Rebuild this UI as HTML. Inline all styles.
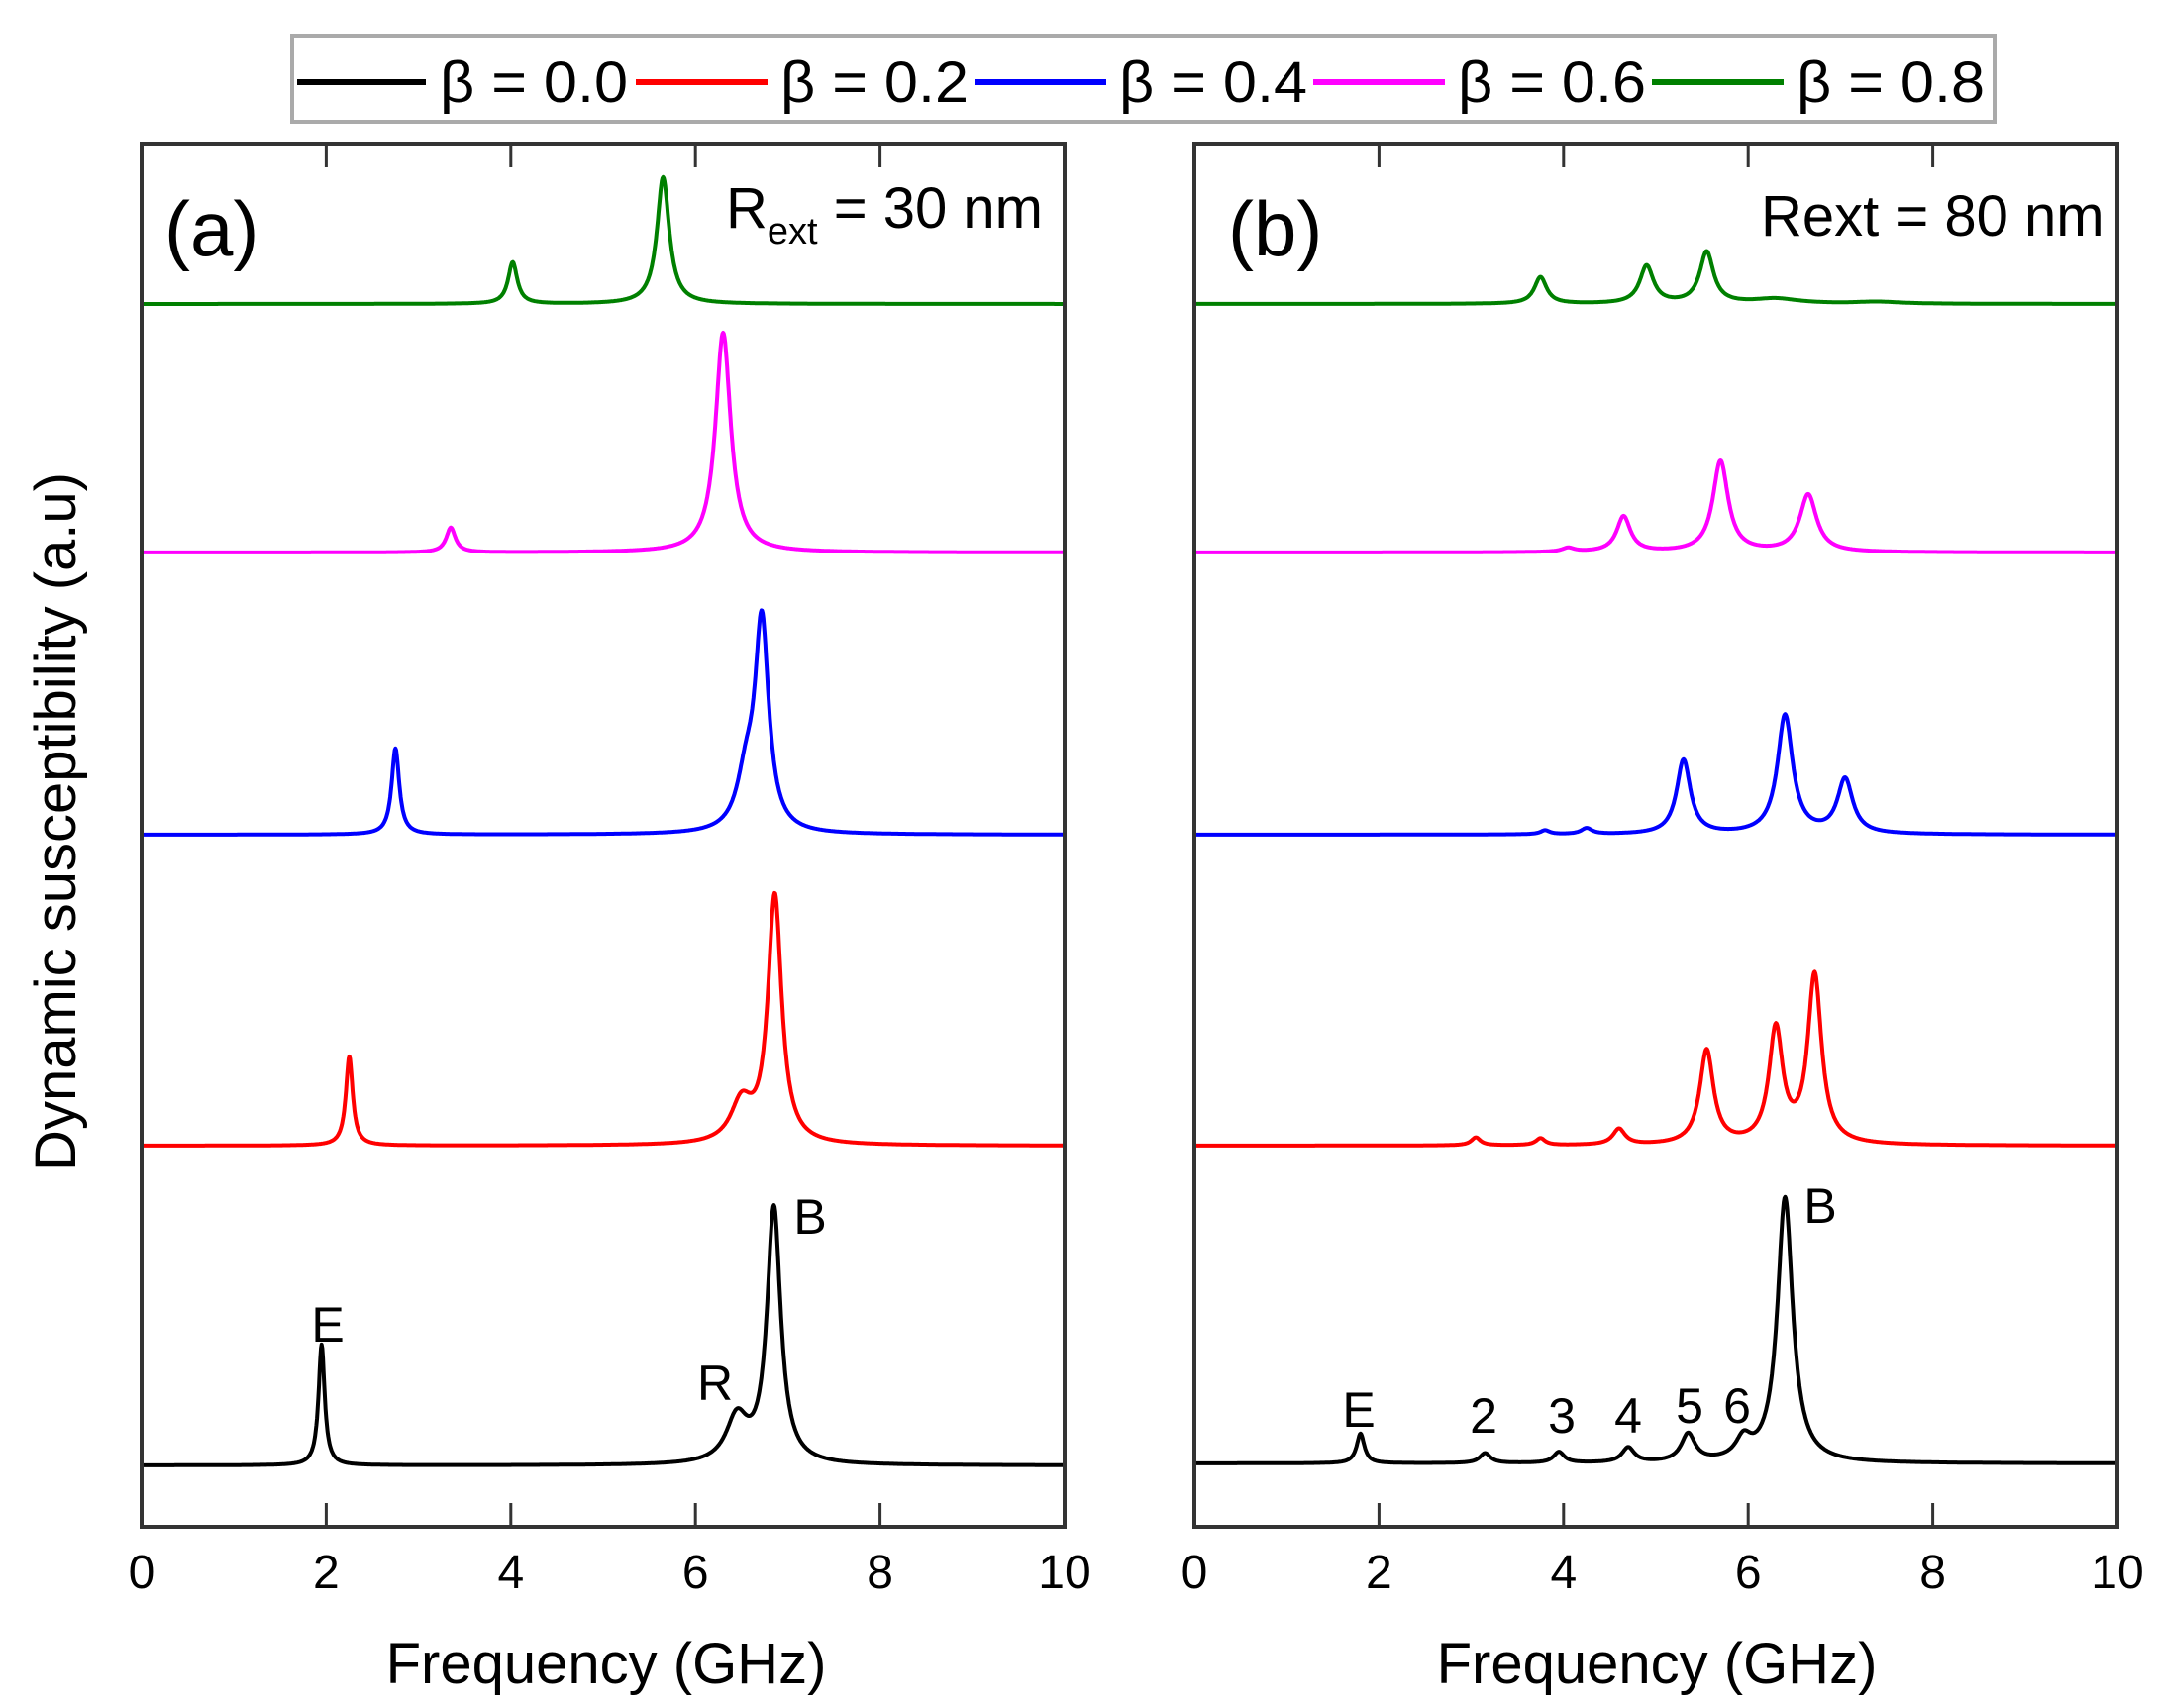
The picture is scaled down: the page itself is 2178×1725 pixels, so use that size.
<!DOCTYPE html>
<html><head><meta charset="utf-8"><style>
html,body{margin:0;padding:0;background:#fff;}
svg{display:block;}
text{font-family:"Liberation Sans",Arial,sans-serif;fill:#000;}
</style></head><body>
<svg id="s" width="2178" height="1725" viewBox="0 0 2178 1725" xmlns="http://www.w3.org/2000/svg">
<rect width="2178" height="1725" fill="#fff"/>
<!-- legend -->
<rect x="295" y="36" width="1719" height="87" fill="#fff" stroke="#aaa" stroke-width="4"/>
<g stroke-width="6">
<line x1="300" y1="83" x2="430" y2="83" stroke="#000"/>
<line x1="642" y1="83" x2="775" y2="83" stroke="#ff0000"/>
<line x1="984" y1="83" x2="1117" y2="83" stroke="#0000ff"/>
<line x1="1326" y1="83" x2="1459" y2="83" stroke="#ff00ff"/>
<line x1="1668" y1="83" x2="1801" y2="83" stroke="#008000"/>
</g>
<g font-size="58">
<text x="444" y="103" textLength="190" lengthAdjust="spacingAndGlyphs">β = 0.0</text>
<text x="788" y="103" textLength="190" lengthAdjust="spacingAndGlyphs">β = 0.2</text>
<text x="1130" y="103" textLength="190" lengthAdjust="spacingAndGlyphs">β = 0.4</text>
<text x="1472" y="103" textLength="190" lengthAdjust="spacingAndGlyphs">β = 0.6</text>
<text x="1814" y="103" textLength="190" lengthAdjust="spacingAndGlyphs">β = 0.8</text>
</g>
<g id="curves" fill="none" stroke-width="4" stroke-linejoin="round"></g>
<!-- frames -->
<g fill="none" stroke="#333" stroke-width="4">
<rect x="143" y="145" width="932" height="1397"/>
<rect x="1206" y="145" width="932" height="1397"/>
</g>
<g id="ticks" stroke="#333" stroke-width="3"></g>
<g font-size="48" text-anchor="middle" id="tl"></g>
<g font-size="58" text-anchor="middle">
<text x="612" y="1700">Frequency (GHz)</text>
<text x="1673" y="1700">Frequency (GHz)</text>
<text transform="translate(76,830) rotate(-90)">Dynamic susceptibility (a.u)</text>
</g>
<g font-size="78">
<text x="166" y="258">(a)</text>
<text x="1240" y="258">(b)</text>
</g>
<g font-size="58">
<text x="733" y="230">R<tspan font-size="38" dy="16">ext</tspan><tspan dy="-16"> = 30 nm</tspan></text>
<text x="1778" y="238">Rext = 80 nm</text>
</g>
<g font-size="50" text-anchor="middle">
<text x="331" y="1355">E</text>
<text x="722" y="1414">R</text>
<text x="818" y="1246">B</text>
<text x="1372" y="1441">E</text>
<text x="1498" y="1447">2</text>
<text x="1577" y="1447">3</text>
<text x="1644" y="1447">4</text>
<text x="1706" y="1437">5</text>
<text x="1754" y="1437">6</text>
<text x="1838" y="1235">B</text>
</g>
</svg>
<script>
var NS="http://www.w3.org/2000/svg";
var S=93.2;
function L(x,x0,w){return w*w/((x-x0)*(x-x0)+w*w);}
function curve(x0p,base,peaks,color){
  var d="";
  for(var i=0;i<=1400;i++){
    var f=i/140, y=base;
    for(var k=0;k<peaks.length;k++){var p=peaks[k];y-=p[1]*L(f,p[0],p[2]);}
    var x=x0p+f*S;
    d+=(i?"L":"M")+x.toFixed(1)+" "+y.toFixed(1);
  }
  var e=document.createElementNS(NS,"path");
  e.setAttribute("d",d);e.setAttribute("stroke",color);
  document.getElementById("curves").appendChild(e);
}
var A=143,B=1206;
curve(A,307,[[4.02,42,0.06],[5.65,128,0.08]],"#008000");
curve(A,558,[[3.35,25,0.06],[6.3,222,0.1]],"#ff00ff");
curve(A,843,[[2.75,87,0.05],[6.55,50,0.12],[6.72,210,0.09]],"#0000ff");
curve(A,1157,[[2.25,90,0.045],[6.5,40,0.14],[6.86,250,0.09]],"#ff0000");
curve(A,1480,[[1.95,122,0.04],[6.45,45,0.14],[6.85,258,0.09]],"#000");
curve(B,307,[[3.75,27,0.08],[4.9,38,0.09],[5.55,52,0.09],[6.3,5,0.3],[7.4,2,0.3]],"#008000");
curve(B,558,[[4.05,4,0.08],[4.65,36,0.09],[5.7,92,0.1],[6.65,58,0.11]],"#ff00ff");
curve(B,843,[[3.8,4,0.06],[4.25,6,0.07],[5.3,75,0.09],[6.4,120,0.1],[7.05,55,0.1]],"#0000ff");
curve(B,1157,[[3.05,8,0.06],[3.75,7,0.06],[4.6,16,0.08],[5.55,95,0.09],[6.3,115,0.09],[6.72,170,0.09]],"#ff0000");
curve(B,1478,[[1.8,30,0.05],[3.15,10,0.07],[3.95,11,0.07],[4.7,15,0.08],[5.35,28,0.09],[5.95,20,0.1],[6.4,268,0.1]],"#000");
var t=document.getElementById("ticks"),tl=document.getElementById("tl");
[A,B].forEach(function(x0){
  for(var v=0;v<=10;v+=2){
    var x=x0+v*S;
    if(v>0&&v<10){
      var l=document.createElementNS(NS,"line");
      l.setAttribute("x1",x);l.setAttribute("x2",x);l.setAttribute("y1",145);l.setAttribute("y2",169);t.appendChild(l);
      l=document.createElementNS(NS,"line");
      l.setAttribute("x1",x);l.setAttribute("x2",x);l.setAttribute("y1",1518);l.setAttribute("y2",1542);t.appendChild(l);
    }
    var tx=document.createElementNS(NS,"text");
    tx.setAttribute("x",x);tx.setAttribute("y",1604);tx.textContent=v;tl.appendChild(tx);
  }
});
</script>
</body></html>
